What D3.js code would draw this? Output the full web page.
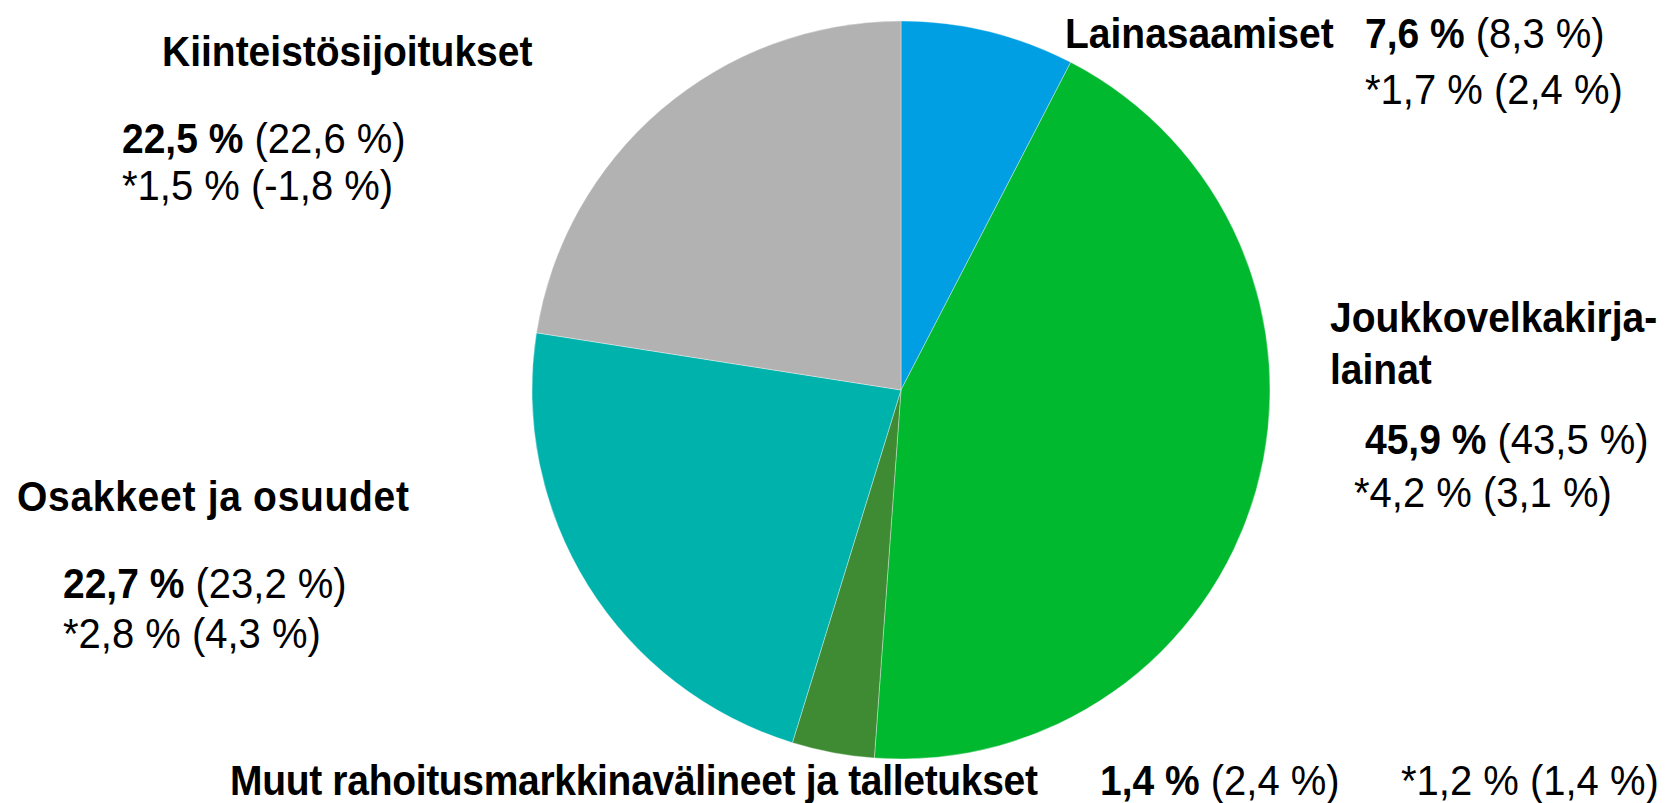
<!DOCTYPE html>
<html lang="fi">
<head>
    <meta charset="UTF-8">
    <script src="https://d3js.org/d3.v7.min.js"></script>
    <title>Sijoitusjakauma</title>
    <style>
        body { margin: 0; background: #fff; }
        svg { display: block; }
        text { font-family: "Liberation Sans", Arial, sans-serif; font-size: 40px; fill: #000; }
        .cat { font-weight: bold; font-size: 39px; }
    </style>
</head>
<body>
<div id="chart"></div>
<script>
    // Luokat (myötäpäivään klo 12:sta alkaen)
    const categories = [
        "Lainasaamiset",
        "Joukkovelkakirjalainat",
        "Muut rahoitusmarkkinavälineet ja talletukset",
        "Osakkeet ja osuudet",
        "Kiinteistösijoitukset"
    ];
    // sektorien koot sellaisina kuin kuvassa piirretty
    const sliceValues = [7.6, 43.5, 3.6, 22.7, 22.5];
    // osuus nyt / edellinen vuosi
    const shareNow  = [7.6, 45.9, 1.4, 22.7, 22.5];
    const sharePrev = [8.3, 43.5, 2.4, 23.2, 22.6];
    // tuotto (*) nyt / edellinen vuosi
    const returnNow  = [1.7, 4.2, 1.2, 2.8, 1.5];
    const returnPrev = [2.4, 3.1, 1.4, 4.3, -1.8];
    const colors = ["#009fe3", "#00b92e", "#3e8b33", "#00b2ac", "#b2b2b2"];

    const width = 1671, height = 803;
    const cx = 901, cy = 390, radius = 369;
    const stretch = 1.07; // teksti hieman pystyyn venytetty

    const fi = d3.formatLocale({ decimal: ",", thousands: " ", grouping: [3], currency: ["", " €"], minus: "-" });
    const pct = v => fi.format(".1f")(v) + " %";

    const svg = d3.select("#chart").append("svg")
        .attr("width", width)
        .attr("height", height);

    // piirakka
    const pie = d3.pie().sort(null).value(d => d)(sliceValues);
    const arc = d3.arc().innerRadius(0).outerRadius(radius);

    svg.append("g")
        .attr("transform", `translate(${cx},${cy})`)
        .selectAll("path")
        .data(pie)
        .join("path")
        .attr("d", arc)
        .attr("fill", (d, i) => colors[i])
        .attr("stroke", "#fff")
        .attr("stroke-width", 0.35);

    // tekstien sijoittelu: [otsikkorivit], osuusrivi, tuottorivi
    const layout = [
        { title: [[1065, 48]], share: [1365, 48], ret: [1365, 104] },
        { title: [[1330, 332, "Joukkovelkakirja-"], [1330, 384, "lainat"]], share: [1365, 454], ret: [1354, 507] },
        { title: [[230, 795]], share: [1100, 795], ret: [1401, 795], fit: 808 },
        { title: [[17, 511]], share: [63, 598], ret: [63, 648], fit: 392 },
        { title: [[162, 66]], share: [122, 153], ret: [122, 200] }
    ];

    const put = (sel, p) => sel.attr("transform", `translate(${p[0]},${p[1]}) scale(1,${stretch})`);

    const labels = svg.append("g");
    categories.forEach((name, i) => {
        const L = layout[i];
        L.title.forEach(t => {
            const el = labels.append("text")
                .attr("class", "cat")
                .call(put, t)
                .text(t[2] || name);
            if (L.fit) el.attr("textLength", L.fit).attr("lengthAdjust", "spacing");
        });

        const s = labels.append("text").call(put, L.share);
        s.append("tspan").attr("class", "cat").text(pct(shareNow[i]));
        s.append("tspan").text(" (" + pct(sharePrev[i]) + ")");

        labels.append("text")
            .call(put, L.ret)
            .text("*" + pct(returnNow[i]) + " (" + pct(returnPrev[i]) + ")");
    });
</script>
</body>
</html>
